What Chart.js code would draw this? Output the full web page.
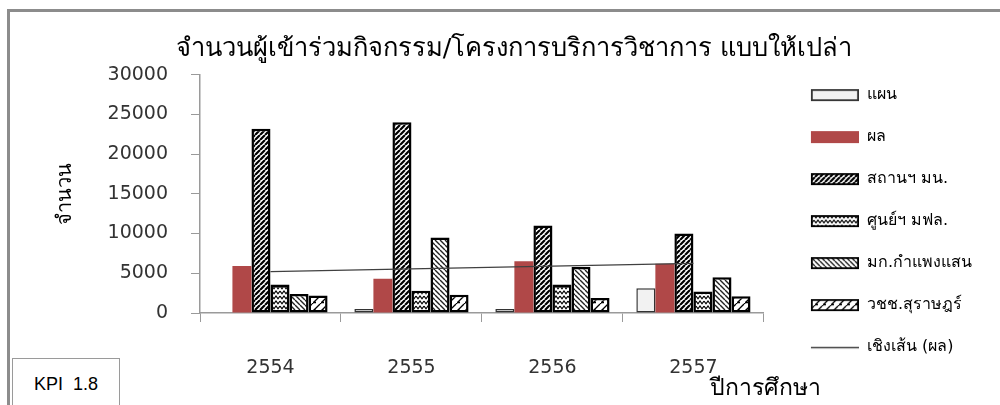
<!DOCTYPE html>
<html>
<head>
<meta charset="utf-8">
<script src="https://cdn.jsdelivr.net/npm/chart.js@4"></script>
<style>
  body { margin: 0; background: #fff; }
  #wrap { position: relative; width: 1000px; height: 405px; overflow: hidden; }
  #frame { position: absolute; left: 7px; top: 9px; right: 0; bottom: 0;
           border-top: 3px solid #8c8c8c; border-left: 3px solid #8c8c8c; pointer-events: none; }
  #kpi { position: absolute; left: 12px; top: 358px; width: 108px; height: 60px;
         border: 1.5px solid #9a9a9a; background: #fff; box-sizing: border-box;
         font: 18px 'Liberation Sans', Arial, sans-serif; text-align: center;
         padding-top: 15px; white-space: pre; }
</style>
</head>
<body>
<div id="wrap">
  <canvas id="kpiChart" width="1000" height="405"></canvas>
  <div id="frame"></div>
  <div id="kpi">KPI  1.8</div>
</div>
<script>
// Data

const years = ['2554', '2555', '2556', '2557'];
const planValues = [0, 500, 500, 3100];
const resultValues = [5900, 4300, 6500, 6200];
const stationValues = [23200, 24000, 11000, 10000];
const centerValues = [3600, 2800, 3600, 2700];
const kpsValues = [2400, 9500, 5800, 4500];
const wccValues = [2200, 2300, 1900, 2100];
// linear trend of "ผล" at each year
const trendValues = [5200, 5550, 5900, 6250];
const yTicks = [0, 5000, 10000, 15000, 20000, 25000, 30000];

const thaiFont = "Tahoma, 'DejaVu Sans', sans-serif";

const canvas = document.getElementById('kpiChart');
const mainCtx = canvas.getContext('2d');

// Hatch patterns

function makeTile(w, h, draw)
{
  const c = document.createElement('canvas');
  c.width = w;
  c.height = h;
  const g = c.getContext('2d');
  g.fillStyle = '#fff';
  g.fillRect(0, 0, w, h);
  g.strokeStyle = '#000';
  draw(g, w, h);
  return mainCtx.createPattern(c, 'repeat');
}

const diagUp = makeTile(5, 5, (g, w, h) => {
  g.lineWidth = 2.2;
  g.beginPath();
  for (let k = -1; k <= 1; k++) {
    g.moveTo(k * w, h);
    g.lineTo(k * w + w, 0);
  }
  g.stroke();
});

const wave = makeTile(8, 5, (g) => {
  g.lineWidth = 1.2;
  g.beginPath();
  g.moveTo(0, 1);
  g.lineTo(2, 3.8);
  g.lineTo(4, 1);
  g.lineTo(6, 3.8);
  g.lineTo(8, 1);
  g.stroke();
});

const diagDown = makeTile(5, 5, (g, w, h) => {
  g.lineWidth = 1.4;
  g.strokeStyle = '#222';
  g.beginPath();
  for (let k = -1; k <= 1; k++) {
    g.moveTo(k * w, 0);
    g.lineTo(k * w + w, h);
  }
  g.stroke();
});

const dashUp = makeTile(8, 8, (g, w, h) => {
  g.lineWidth = 1.3;
  g.beginPath();
  for (let k = -1; k <= 1; k++) {
    g.moveTo(k * w, h);
    g.lineTo(k * w + w, 0);
  }
  g.moveTo(1, 6.5);
  g.lineTo(4, 6.5);
  g.stroke();
});

// Legend swatches (drawn as point style images)

function makeSwatch(fill, border, lineOnly)
{
  const c = document.createElement('canvas');
  c.width = 69;
  c.height = 14;
  const g = c.getContext('2d');
  if (lineOnly) {
    g.strokeStyle = '#404040';
    g.lineWidth = 1.5;
    g.beginPath();
    g.moveTo(21, 7.5);
    g.lineTo(69, 7.5);
    g.stroke();
    return c;
  }
  g.fillStyle = fill;
  g.fillRect(21, 1, 48, 12);
  if (border) {
    g.strokeStyle = border;
    g.lineWidth = 1.8;
    g.strokeRect(21.9, 1.9, 46.2, 10.2);
  }
  return c;
}

const swatches = [
  makeSwatch('#f2f2f2', '#333'),
  makeSwatch('#b04848', null),
  makeSwatch(diagUp, '#000'),
  makeSwatch(wave, '#000'),
  makeSwatch(diagDown, '#000'),
  makeSwatch(dashUp, '#000'),
  makeSwatch(null, null, true)
];

// x axis title, placed right of the axis end like the original

const xAxisTitle = {
  id: 'xAxisTitle',
  afterDraw(chart)
  {
    const ctx = chart.ctx;
    ctx.save();
    ctx.font = '23px ' + thaiFont;
    ctx.fillStyle = '#000';
    ctx.textAlign = 'right';
    ctx.textBaseline = 'middle';
    ctx.fillText('ปีการศึกษา', chart.chartArea.right + 57, 389);
    ctx.restore();
  }
};

const hatchBorder = 2.5;

new Chart(canvas, {
  type: 'bar',
  data: {
    labels: years,
    datasets: [
      { label: 'แผน', data: planValues, backgroundColor: '#f2f2f2', borderColor: '#333', borderWidth: 1.5 },
      { label: 'ผล', data: resultValues, backgroundColor: '#b04848', borderWidth: 0 },
      { label: 'สถานฯ มน.', data: stationValues, backgroundColor: diagUp, borderColor: '#000', borderWidth: hatchBorder },
      { label: 'ศูนย์ฯ มฟล.', data: centerValues, backgroundColor: wave, borderColor: '#000', borderWidth: hatchBorder },
      { label: 'มก.กำแพงแสน', data: kpsValues, backgroundColor: diagDown, borderColor: '#000', borderWidth: hatchBorder },
      { label: 'วชช.สุราษฎร์', data: wccValues, backgroundColor: dashUp, borderColor: '#000', borderWidth: hatchBorder },
      {
        type: 'line',
        label: 'เชิงเส้น (ผล)',
        data: trendValues,
        borderColor: '#404040',
        borderWidth: 1.3,
        pointRadius: 0,
        fill: false,
        order: -1
      }
    ]
  },
  options: {
    responsive: false,
    animation: false,
    layout: { padding: { left: 46, right: 18, top: 0, bottom: 0 } },
    datasets: {
      bar: { categoryPercentage: 0.81, barPercentage: 1, borderSkipped: false }
    },
    plugins: {
      title: {
        display: true,
        text: 'จำนวนผู้เข้าร่วมกิจกรรม/โครงการบริการวิชาการ แบบให้เปล่า',
        color: '#000',
        font: { family: thaiFont, size: 25.5, weight: 'normal' },
        padding: { top: 34, bottom: 10 }
      },
      legend: {
        position: 'right',
        title: { display: true, text: '', font: { size: 1 }, padding: { top: 18, bottom: 18 } },
        labels: {
          usePointStyle: true,
          pointStyleWidth: 69,
          padding: 26,
          color: '#000',
          font: { family: thaiFont, size: 16 },
          sort: (a, b) => a.datasetIndex - b.datasetIndex,
          generateLabels(chart)
          {
            const items = Chart.defaults.plugins.legend.labels.generateLabels(chart);
            items.forEach((item) => { item.pointStyle = swatches[item.datasetIndex]; });
            return items;
          }
        }
      },
      tooltip: { enabled: false }
    },
    scales: {
      x: {
        grid: { display: true, drawOnChartArea: false, drawTicks: true, tickLength: 9, color: '#9a9a9a', offset: true },
        border: { display: true, color: '#9a9a9a', width: 1.5 },
        ticks: { color: '#333', padding: 35, font: { family: "'DejaVu Sans', sans-serif", size: 19 } },
        afterFit(scale) { scale.height = 92; }
      },
      y: {
        min: 0,
        max: 30000,
        afterBuildTicks(scale) { scale.ticks = yTicks.map(v => ({ value: v })); },
        grid: { display: true, drawOnChartArea: false, drawTicks: true, tickLength: 9, color: '#9a9a9a' },
        border: { display: true, color: '#9a9a9a', width: 1.5 },
        ticks: {
          color: '#333',
          padding: 23,
          font: { family: "'DejaVu Sans', sans-serif", size: 19 },
          callback: (value) => String(value)
        },
        title: {
          display: true,
          text: 'จำนวน',
          color: '#000',
          font: { family: thaiFont, size: 20 },
          padding: { top: 8, bottom: 0 }
        },
        afterFit(scale) { scale.width = 154; }
      }
    }
  },
  plugins: [xAxisTitle]
});
</script>
</body>
</html>
